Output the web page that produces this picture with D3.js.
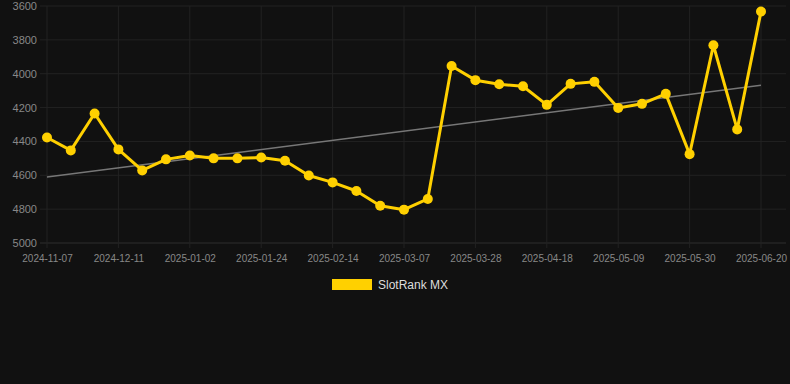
<!DOCTYPE html>
<html>
<head>
<meta charset="utf-8">
<script src="https://cdn.jsdelivr.net/npm/d3@7"></script>
<style>
  body { margin: 0; background: #111111; }
  svg { display: block; font-family: Arial, "Liberation Sans", sans-serif; }
</style>
</head>
<body>
<script>
// weekly snapshots, only every third label is shown on the axis
const dates = [
  "2024-11-07", "2024-11-18", "2024-11-29", "2024-12-11", "2024-12-18", "2024-12-25",
  "2025-01-02", "2025-01-09", "2025-01-16", "2025-01-24", "2025-01-31", "2025-02-07",
  "2025-02-14", "2025-02-21", "2025-02-28", "2025-03-07", "2025-03-14", "2025-03-21",
  "2025-03-28", "2025-04-04", "2025-04-11", "2025-04-18", "2025-04-25", "2025-05-02",
  "2025-05-09", "2025-05-16", "2025-05-23", "2025-05-30", "2025-06-06", "2025-06-13",
  "2025-06-20"
];
const ranks = [
  4377, 4453, 4235, 4447, 4571, 4506, 4483, 4500, 4500, 4495, 4514, 4601,
  4642, 4693, 4780, 4803, 4740, 3954, 4038, 4062, 4074, 4184, 4060, 4048,
  4202, 4178, 4119, 4475, 3832, 4329, 3633
];
const yTicks = [3600, 3800, 4000, 4200, 4400, 4600, 4800, 5000];
const seriesName = "SlotRank MX";

const width = 790, height = 384;
const plotLeft = 40, plotRight = 786, plotTop = 6, plotBottom = 243;

const svg = d3.select("body").append("svg")
  .attr("width", width)
  .attr("height", height);

const x = d3.scalePoint().domain(dates).range([47, 761]);
const y = d3.scaleLinear().domain([3600, 5000]).range([plotTop, plotBottom]);

// grid
svg.append("g")
  .selectAll("line")
  .data(yTicks)
  .enter().append("line")
  .attr("x1", plotLeft).attr("x2", plotRight)
  .attr("y1", d => y(d)).attr("y2", d => y(d))
  .attr("stroke", d => d === 5000 ? "#2e2e2e" : "#222222")
  .attr("stroke-width", 1);

const shown = dates.filter((d, i) => i % 3 === 0);

svg.append("g")
  .selectAll("line")
  .data(shown)
  .enter().append("line")
  .attr("x1", d => x(d)).attr("x2", d => x(d))
  .attr("y1", plotTop).attr("y2", plotBottom + 5)
  .attr("stroke", "#222222")
  .attr("stroke-width", 1);

// axes
const yAxis = svg.append("g")
  .attr("transform", "translate(" + (plotLeft - 3) + ",0)")
  .call(d3.axisLeft(y).tickValues(yTicks).tickFormat(d3.format("d")).tickSize(0).tickPadding(0));
yAxis.select(".domain").remove();
yAxis.selectAll("text")
  .attr("fill", "#888888")
  .attr("font-size", "11px");

const xAxis = svg.append("g")
  .attr("transform", "translate(0," + plotBottom + ")")
  .call(d3.axisBottom(x).tickValues(shown).tickSize(0).tickPadding(12));
xAxis.select(".domain").remove();
xAxis.selectAll("text")
  .attr("fill", "#888888")
  .attr("font-size", "10px");

// trend line (least squares)
const n = ranks.length;
const mx = d3.mean(ranks, (d, i) => i), my = d3.mean(ranks);
const slope = d3.sum(ranks, (d, i) => (i - mx) * (d - my)) / d3.sum(ranks, (d, i) => (i - mx) * (i - mx));
const icpt = my - slope * mx;

svg.append("line")
  .attr("x1", x(dates[0])).attr("y1", y(icpt))
  .attr("x2", x(dates[n - 1])).attr("y2", y(icpt + slope * (n - 1)))
  .attr("stroke", "#777777")
  .attr("stroke-width", 1.5);

// series
const line = d3.line()
  .x((d, i) => x(dates[i]))
  .y(d => y(d));

svg.append("path")
  .datum(ranks)
  .attr("d", line)
  .attr("fill", "none")
  .attr("stroke", "#ffd000")
  .attr("stroke-width", 3)
  .attr("stroke-linejoin", "round");

svg.append("g")
  .selectAll("circle")
  .data(ranks)
  .enter().append("circle")
  .attr("cx", (d, i) => x(dates[i]))
  .attr("cy", d => y(d))
  .attr("r", 5)
  .attr("fill", "#ffd000");

// legend
const lg = svg.append("g").attr("transform", "translate(332,279)");
lg.append("rect")
  .attr("width", 40).attr("height", 11)
  .attr("fill", "#ffd000");
lg.append("text")
  .attr("x", 46).attr("y", 9.5)
  .attr("fill", "#dddddd")
  .attr("font-size", "12px")
  .text(seriesName);
</script>
</body>
</html>
